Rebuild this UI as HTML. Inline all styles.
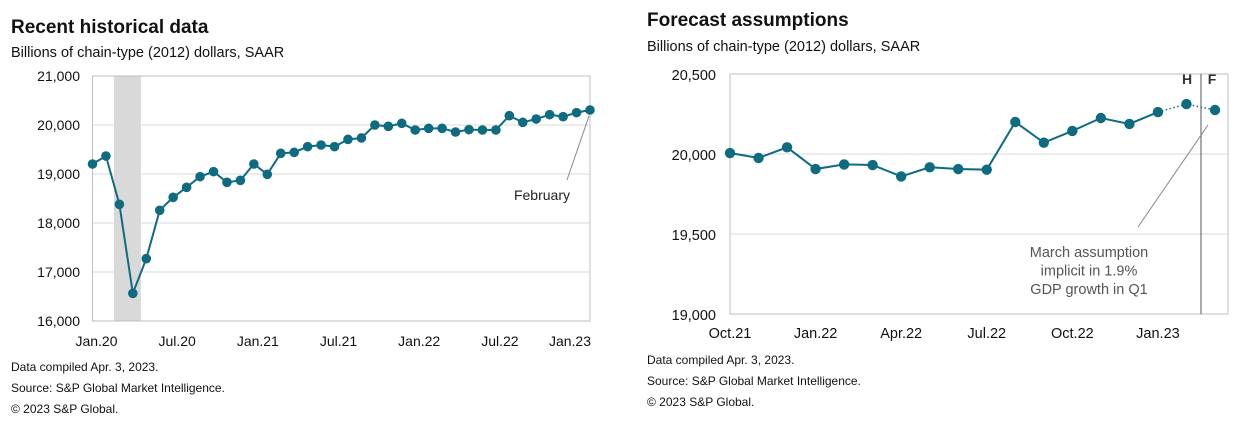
<!DOCTYPE html>
<html><head><meta charset="utf-8"><style>
body{margin:0;background:#fff;}
svg{display:block;font-family:"Liberation Sans",Arial,sans-serif;}
</style></head><body>
<svg id="c" width="1250" height="421" viewBox="0 0 1250 421">
<text x="11" y="33" font-size="19" font-weight="bold" fill="#111">Recent historical data</text>
<text x="11" y="57" font-size="14.5" fill="#111">Billions of chain-type (2012) dollars, SAAR</text>
<text x="647" y="26" font-size="19" font-weight="bold" fill="#111">Forecast assumptions</text>
<text x="647" y="51" font-size="14.5" fill="#111">Billions of chain-type (2012) dollars, SAAR</text>
<g font-size="12" fill="#111">
<text x="11" y="371">Data compiled Apr. 3, 2023.</text>
<text x="11" y="392">Source: S&amp;P Global Market Intelligence.</text>
<text x="11" y="413">© 2023 S&amp;P Global.</text>
</g>
<g font-size="12" fill="#111">
<text x="647" y="364">Data compiled Apr. 3, 2023.</text>
<text x="647" y="385">Source: S&amp;P Global Market Intelligence.</text>
<text x="647" y="406">© 2023 S&amp;P Global.</text>
</g>
<g id="L"></g><g id="R"></g>
</svg>
<script>
// Left chart data (monthly Jan.20 - Feb.23)
const leftValues=[19204,19367,18381,16565,17272,18259,18524,18728,18946,19048,18830,18871,19204,18993,19422,19442,19558,19592,19558,19707,19735,20000,19973,20034,19898,19932,19932,19857,19905,19898,19898,20190,20054,20122,20211,20170,20252,20306];
const leftTickLabels=["Jan.20","Jul.20","Jan.21","Jul.21","Jan.22","Jul.22","Jan.23"];
const leftTickIdx=[0,6,12,18,24,30,36];
const leftYTicks=[16000,17000,18000,19000,20000,21000];
const recessionIdx=[1.6,3.6];
// Right chart data (monthly Oct.21 - Mar.23; last is forecast)
const rightValues=[20006,19975,20042,19906,19935,19931,19860,19917,19906,19902,20200,20071,20144,20225,20188,20262,20312,20275];
const rightTickLabels=["Oct.21","Jan.22","Apr.22","Jul.22","Oct.22","Jan.23"];
const rightTickIdx=[0,3,6,9,12,15];
const rightYTicks=[19000,19500,20000,20500];

const NS="http://www.w3.org/2000/svg";
const COL="#0e6b80";
function mk(p,t,a){const e=document.createElementNS(NS,t);for(const k in a)e.setAttribute(k,a[k]);p.appendChild(e);return e;}

// Left
(function(){
const g=document.getElementById('L');
const x0=92.5,x1=590,yT=76,yB=321,vMin=16000,vMax=21000;
const n=leftValues.length;
const X=i=>x0+i*(x1-x0)/(n-1);
const Y=v=>yB-(v-vMin)/(vMax-vMin)*(yB-yT);
const band=mk(g,'rect',{x:X(recessionIdx[0]),y:yT,width:X(recessionIdx[1])-X(recessionIdx[0]),height:yB-yT,fill:'#d9d9d9'});


leftYTicks.forEach(v=>{
 if(v>vMin&&v<vMax){const l=mk(g,'line',{x1:x0,x2:x1,y1:Y(v),y2:Y(v),stroke:'#d9d9d9','stroke-width':1});
 
 }
 const t=mk(g,'text',{x:80,y:Y(v)+5,'font-size':14,'text-anchor':'end',fill:'#111'});t.textContent=v.toLocaleString('en-US');
 
 
});
const fr=mk(g,'rect',{x:x0,y:yT,width:x1-x0,height:yB-yT,fill:'none',stroke:'#bfbfbf'});


leftTickIdx.forEach((ix,k)=>{
 let xx=X(ix)+4;if(k===leftTickIdx.length-1)xx=570;
 const t=mk(g,'text',{x:xx,y:346,'font-size':14,'text-anchor':'middle',fill:'#111'});t.textContent=leftTickLabels[k];
 
 
});
const ln=mk(g,'polyline',{points:leftValues.map((v,i)=>X(i)+','+Y(v)).join(' '),fill:'none',stroke:COL,'stroke-width':2});


leftValues.forEach((v,i)=>{const c=mk(g,'circle',{cx:X(i),cy:Y(v),r:4.8,fill:COL});
 
 });
const a=mk(g,'line',{x1:567,y1:180,x2:X(n-1)-1,y2:Y(leftValues[n-1])+6,stroke:'#888','stroke-width':1});


const ft=mk(g,'text',{x:570,y:200,'font-size':14,'text-anchor':'end',fill:'#222'});ft.textContent='February';


})();

// Right
(function(){
const g=document.getElementById('R');
const x0=730,xr=1228,yT=74,yB=314,vMin=19000,vMax=20500;
const n=rightValues.length;
const step=(1215-730)/(n-1);
const X=i=>x0+i*step;
const Y=v=>yB-(v-vMin)/(vMax-vMin)*(yB-yT);
rightYTicks.forEach(v=>{
 if(v>vMin){const l=mk(g,'line',{x1:x0,x2:xr,y1:Y(v),y2:Y(v),stroke:'#d9d9d9','stroke-width':1});
 
 }
 const t=mk(g,'text',{x:716,y:Y(v)+6,'font-size':14.5,'text-anchor':'end',fill:'#111'});t.textContent=v.toLocaleString('en-US');
 
 
});
const fr=mk(g,'rect',{x:x0,y:yT,width:xr-x0,height:yB-yT,fill:'none',stroke:'#bfbfbf'});


rightTickIdx.forEach((ix,k)=>{
 const t=mk(g,'text',{x:X(ix),y:338,'font-size':14.5,'text-anchor':'middle',fill:'#111'});t.textContent=rightTickLabels[k];
 
 
});
const dv=mk(g,'line',{x1:1201,x2:1201,y1:yT,y2:yB,stroke:'#555','stroke-width':1});


const h=mk(g,'text',{x:1187,y:84,'font-size':14,'font-weight':'bold','text-anchor':'middle',fill:'#333'});h.textContent='H';


const f=mk(g,'text',{x:1212,y:84,'font-size':14,'font-weight':'bold','text-anchor':'middle',fill:'#333'});f.textContent='F';


const solid=rightValues.slice(0,n-2);
const ln=mk(g,'polyline',{points:solid.map((v,i)=>X(i)+','+Y(v)).join(' '),fill:'none',stroke:COL,'stroke-width':2});


const dl=mk(g,'polyline',{points:rightValues.slice(n-3).map((v,i)=>X(n-3+i)+','+Y(v)).join(' '),fill:'none',stroke:COL,'stroke-width':1.5,'stroke-dasharray':'1.5,2.5'});


rightValues.forEach((v,i)=>{const c=mk(g,'circle',{cx:X(i),cy:Y(v),r:5.2,fill:COL});
 
 });
const a=mk(g,'line',{x1:1138,y1:227,x2:1208,y2:125,stroke:'#888','stroke-width':1});


['March assumption','implicit in 1.9%','GDP growth in Q1'].forEach((s,k)=>{
 const t=mk(g,'text',{x:1089,y:257+k*18.5,'font-size':14.5,'text-anchor':'middle',fill:'#555'});t.textContent=s;
 
 
});
})();
</script>
</body></html>
